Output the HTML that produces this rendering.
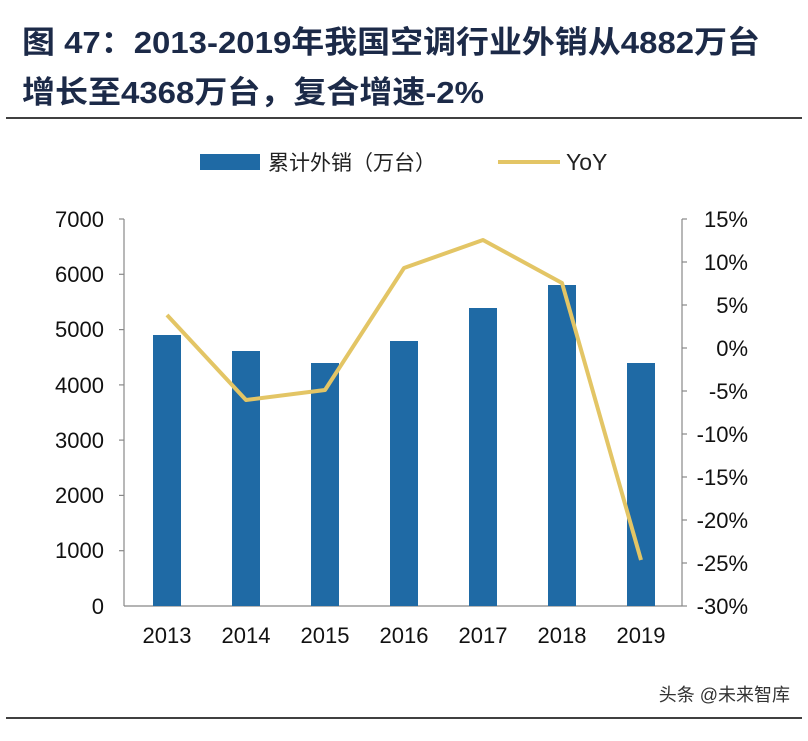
<!DOCTYPE html>
<html><head><meta charset="utf-8"><style>
body{margin:0;background:#fff;}
svg text{font-family:"Liberation Sans","Noto Sans CJK SC",sans-serif;}
</style></head><body>
<svg width="808" height="736" viewBox="0 0 808 736" xmlns="http://www.w3.org/2000/svg">
<text x="22" y="53" font-size="31" font-weight="bold" fill="#1c2a48" textLength="738" lengthAdjust="spacingAndGlyphs">图  47：2013-2019年我国空调行业外销从4882万台</text>
<text x="22" y="103" font-size="31" font-weight="bold" fill="#1c2a48" textLength="462" lengthAdjust="spacingAndGlyphs">增长至4368万台，复合增速-2%</text>
<line x1="6" y1="118" x2="802" y2="118" stroke="#000" stroke-width="1.5"/>
<line x1="6" y1="718" x2="802" y2="718" stroke="#000" stroke-width="1.5"/>
<rect x="200" y="154" width="60" height="16" fill="#1f6aa5"/>
<text x="268" y="170" font-size="21" fill="#222">累计外销（万台）</text>
<line x1="498" y1="162" x2="560" y2="162" stroke="#e3c565" stroke-width="4"/>
<text x="566" y="170" font-size="23" fill="#222">YoY</text>
<g stroke="#888" stroke-width="1.2">
<line x1="124" y1="219" x2="124" y2="606"/>
<line x1="124" y1="606" x2="682" y2="606"/>
<line x1="682" y1="219" x2="682" y2="606"/>
</g>
<g stroke="#888" stroke-width="1.2">
<line x1="119" y1="219" x2="124" y2="219"/><line x1="119" y1="274.3" x2="124" y2="274.3"/><line x1="119" y1="329.6" x2="124" y2="329.6"/><line x1="119" y1="384.9" x2="124" y2="384.9"/><line x1="119" y1="440.1" x2="124" y2="440.1"/><line x1="119" y1="495.4" x2="124" y2="495.4"/><line x1="119" y1="550.7" x2="124" y2="550.7"/>
<line x1="682" y1="219" x2="687" y2="219"/><line x1="682" y1="262" x2="687" y2="262"/><line x1="682" y1="305" x2="687" y2="305"/><line x1="682" y1="348" x2="687" y2="348"/><line x1="682" y1="391" x2="687" y2="391"/><line x1="682" y1="434" x2="687" y2="434"/><line x1="682" y1="477" x2="687" y2="477"/><line x1="682" y1="520" x2="687" y2="520"/><line x1="682" y1="563" x2="687" y2="563"/><line x1="682" y1="606" x2="687" y2="606"/>
</g>
<g font-size="22" fill="#111" text-anchor="end">
<text x="104" y="227">7000</text><text x="104" y="282">6000</text><text x="104" y="337">5000</text><text x="104" y="393">4000</text><text x="104" y="448">3000</text><text x="104" y="503">2000</text><text x="104" y="558">1000</text><text x="104" y="614">0</text>
</g>
<g font-size="22" fill="#111" text-anchor="end">
<text x="748" y="227">15%</text><text x="748" y="270">10%</text><text x="748" y="313">5%</text><text x="748" y="356">0%</text><text x="748" y="399">-5%</text><text x="748" y="442">-10%</text><text x="748" y="485">-15%</text><text x="748" y="528">-20%</text><text x="748" y="571">-25%</text><text x="748" y="614">-30%</text>
</g>
<g fill="#1f6aa5">
<rect x="153" y="335" width="28" height="271"/>
<rect x="232" y="351" width="28" height="255"/>
<rect x="311" y="363" width="28" height="243"/>
<rect x="390" y="341" width="28" height="265"/>
<rect x="469" y="308" width="28" height="298"/>
<rect x="548" y="285" width="28" height="321"/>
<rect x="627" y="363" width="28" height="243"/>
</g>
<polyline points="167,315 246,400 325,390 404,268 483,240 562,283 641,560" fill="none" stroke="#e3c565" stroke-width="4" stroke-linejoin="round"/>
<g font-size="22" fill="#111" text-anchor="middle">
<text x="167" y="643">2013</text><text x="246" y="643">2014</text><text x="325" y="643">2015</text><text x="404" y="643">2016</text><text x="483" y="643">2017</text><text x="562" y="643">2018</text><text x="641" y="643">2019</text>
</g>
<text x="790" y="701" font-size="18" fill="#333" text-anchor="end">头条 @未来智库</text>
</svg>
</body></html>
